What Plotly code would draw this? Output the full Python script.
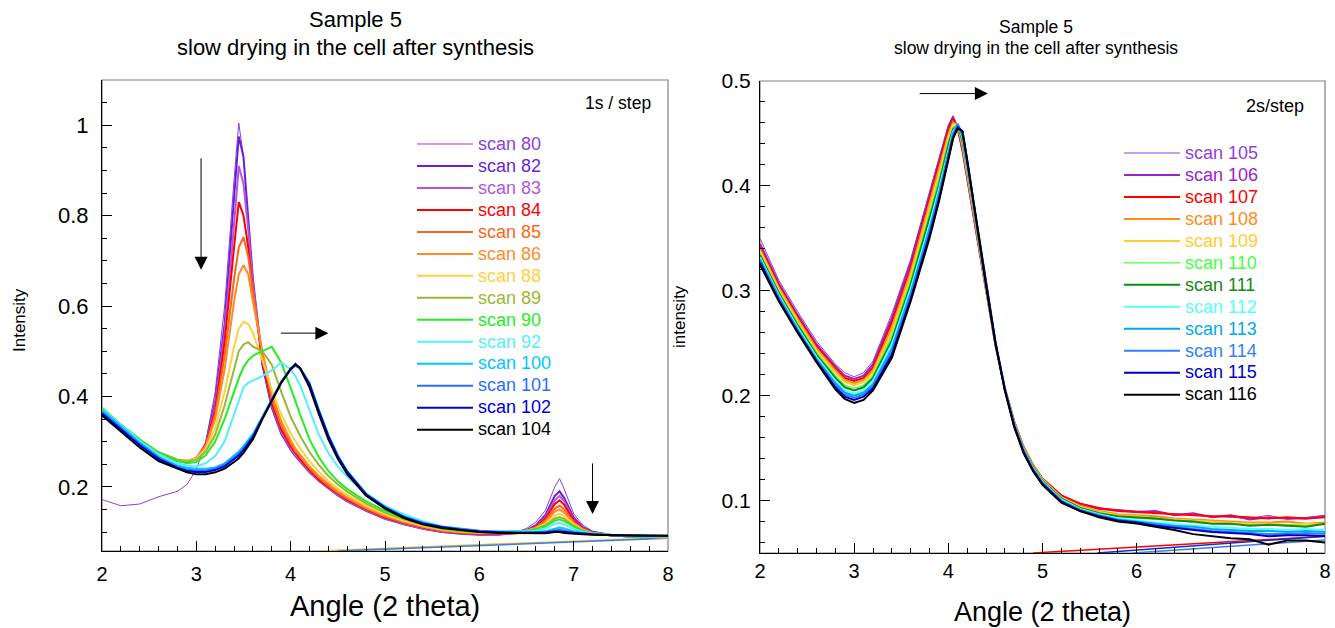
import plotly.graph_objects as go

# ---------------- LEFT PANEL DATA (1s / step) ----------------
L_X = [2.0, 2.2, 2.4, 2.6, 2.8, 2.9, 3.0, 3.1, 3.2, 3.3,
       3.4, 3.45, 3.5, 3.55, 3.6, 3.7, 3.8, 3.9, 4.0, 4.05,
       4.1, 4.2, 4.3, 4.4, 4.5, 4.6, 4.8, 5.0, 5.2, 5.4,
       5.6, 5.8, 6.0, 6.2, 6.4, 6.5, 6.6, 6.7, 6.8, 6.85,
       6.9, 7.0, 7.1, 7.2, 7.4, 7.6, 7.8, 8.0]

L_NAMES = ["scan 80", "scan 82", "scan 83", "scan 84", "scan 85", "scan 86", "scan 88",
           "scan 89", "scan 90", "scan 92", "scan 100", "scan 101", "scan 102", "scan 104"]

scan80 = [0.172, 0.158, 0.162, 0.178, 0.190, 0.205, 0.238, 0.300, 0.410, 0.600,
          0.880, 1.005, 0.930, 0.780, 0.640, 0.470, 0.380, 0.320, 0.285, 0.270,
          0.258, 0.235, 0.215, 0.198, 0.183, 0.170, 0.148, 0.130, 0.118, 0.108,
          0.100, 0.097, 0.094, 0.095, 0.100, 0.108, 0.122, 0.148, 0.200, 0.218,
          0.195, 0.140, 0.115, 0.102, 0.094, 0.090, 0.089, 0.088]
scan82 = [0.362, 0.328, 0.297, 0.272, 0.257, 0.255, 0.262, 0.295, 0.390, 0.560,
          0.840, 0.975, 0.930, 0.800, 0.660, 0.470, 0.375, 0.318, 0.282, 0.268,
          0.256, 0.232, 0.213, 0.196, 0.181, 0.168, 0.147, 0.129, 0.117, 0.107,
          0.100, 0.096, 0.094, 0.094, 0.098, 0.104, 0.115, 0.138, 0.180, 0.190,
          0.175, 0.132, 0.110, 0.100, 0.093, 0.090, 0.088, 0.088]
scan83 = [0.364, 0.329, 0.298, 0.272, 0.257, 0.256, 0.262, 0.293, 0.380, 0.540,
          0.780, 0.910, 0.870, 0.770, 0.650, 0.480, 0.380, 0.322, 0.285, 0.270,
          0.258, 0.234, 0.214, 0.197, 0.182, 0.169, 0.148, 0.130, 0.118, 0.108,
          0.101, 0.097, 0.095, 0.095, 0.097, 0.103, 0.113, 0.133, 0.170, 0.180,
          0.168, 0.128, 0.108, 0.099, 0.093, 0.090, 0.088, 0.088]
scan84 = [0.365, 0.330, 0.299, 0.273, 0.258, 0.256, 0.263, 0.292, 0.370, 0.520,
          0.730, 0.830, 0.800, 0.730, 0.630, 0.480, 0.385, 0.328, 0.290, 0.274,
          0.261, 0.237, 0.216, 0.199, 0.184, 0.171, 0.150, 0.132, 0.120, 0.110,
          0.102, 0.098, 0.096, 0.096, 0.098, 0.103, 0.112, 0.130, 0.162, 0.170,
          0.160, 0.126, 0.107, 0.099, 0.093, 0.090, 0.089, 0.088]
scan85 = [0.366, 0.331, 0.300, 0.274, 0.259, 0.257, 0.263, 0.290, 0.360, 0.490,
          0.660, 0.730, 0.752, 0.710, 0.630, 0.490, 0.395, 0.335, 0.296, 0.279,
          0.266, 0.241, 0.220, 0.202, 0.187, 0.174, 0.152, 0.134, 0.121, 0.111,
          0.103, 0.099, 0.097, 0.097, 0.099, 0.103, 0.110, 0.126, 0.152, 0.158,
          0.150, 0.122, 0.106, 0.098, 0.093, 0.090, 0.089, 0.088]
scan86 = [0.367, 0.332, 0.301, 0.275, 0.260, 0.258, 0.264, 0.290, 0.350, 0.460,
          0.610, 0.670, 0.690, 0.670, 0.610, 0.500, 0.405, 0.345, 0.303, 0.285,
          0.271, 0.245, 0.224, 0.206, 0.190, 0.177, 0.154, 0.136, 0.123, 0.112,
          0.104, 0.100, 0.098, 0.098, 0.100, 0.103, 0.109, 0.122, 0.145, 0.150,
          0.143, 0.120, 0.105, 0.098, 0.093, 0.090, 0.089, 0.088]
scan88 = [0.368, 0.333, 0.302, 0.276, 0.260, 0.257, 0.262, 0.284, 0.330, 0.410,
          0.510, 0.550, 0.565, 0.560, 0.540, 0.480, 0.415, 0.360, 0.318, 0.300,
          0.285, 0.257, 0.233, 0.213, 0.196, 0.182, 0.158, 0.139, 0.125, 0.114,
          0.106, 0.101, 0.099, 0.099, 0.100, 0.103, 0.108, 0.118, 0.136, 0.140,
          0.135, 0.117, 0.104, 0.097, 0.093, 0.090, 0.089, 0.088]
scan89 = [0.370, 0.335, 0.303, 0.277, 0.260, 0.256, 0.260, 0.278, 0.315, 0.380,
          0.460, 0.500, 0.515, 0.520, 0.510, 0.500, 0.470, 0.410, 0.355, 0.333,
          0.313, 0.277, 0.248, 0.224, 0.205, 0.189, 0.163, 0.143, 0.128, 0.116,
          0.107, 0.102, 0.100, 0.100, 0.101, 0.103, 0.107, 0.115, 0.130, 0.133,
          0.129, 0.114, 0.103, 0.097, 0.093, 0.090, 0.089, 0.088]
scan90 = [0.375, 0.338, 0.305, 0.276, 0.257, 0.252, 0.255, 0.270, 0.300, 0.350,
          0.410, 0.440, 0.465, 0.480, 0.490, 0.500, 0.510, 0.475, 0.420, 0.390,
          0.360, 0.305, 0.265, 0.235, 0.212, 0.195, 0.168, 0.147, 0.131, 0.118,
          0.109, 0.103, 0.100, 0.100, 0.101, 0.102, 0.106, 0.112, 0.125, 0.128,
          0.124, 0.112, 0.102, 0.097, 0.093, 0.090, 0.089, 0.089]
scan92 = [0.372, 0.336, 0.302, 0.272, 0.252, 0.247, 0.245, 0.252, 0.268, 0.300,
          0.360, 0.390, 0.420, 0.430, 0.435, 0.445, 0.458, 0.475, 0.460, 0.445,
          0.425, 0.370, 0.315, 0.275, 0.245, 0.222, 0.185, 0.158, 0.139, 0.124,
          0.113, 0.106, 0.102, 0.101, 0.100, 0.101, 0.103, 0.108, 0.118, 0.120,
          0.117, 0.107, 0.100, 0.096, 0.093, 0.091, 0.090, 0.090]
scan100 = [0.370, 0.333, 0.298, 0.267, 0.247, 0.242, 0.240, 0.240, 0.243, 0.252,
           0.268, 0.278, 0.290, 0.303, 0.317, 0.355, 0.395, 0.433, 0.460, 0.468,
           0.462, 0.430, 0.370, 0.315, 0.270, 0.235, 0.185, 0.156, 0.135, 0.121,
           0.112, 0.107, 0.103, 0.101, 0.100, 0.100, 0.100, 0.102, 0.108, 0.110,
           0.108, 0.102, 0.098, 0.095, 0.093, 0.092, 0.091, 0.091]
scan101 = [0.365, 0.330, 0.295, 0.264, 0.244, 0.238, 0.236, 0.236, 0.240, 0.249,
           0.264, 0.273, 0.285, 0.299, 0.313, 0.352, 0.392, 0.431, 0.460, 0.468,
           0.462, 0.425, 0.365, 0.310, 0.266, 0.232, 0.183, 0.154, 0.133, 0.120,
           0.111, 0.106, 0.102, 0.100, 0.099, 0.099, 0.099, 0.100, 0.104, 0.105,
           0.103, 0.099, 0.097, 0.095, 0.093, 0.092, 0.092, 0.091]
scan102 = [0.362, 0.327, 0.292, 0.262, 0.242, 0.235, 0.233, 0.233, 0.237, 0.245,
           0.260, 0.269, 0.281, 0.295, 0.310, 0.351, 0.392, 0.431, 0.462, 0.470,
           0.463, 0.427, 0.367, 0.312, 0.267, 0.233, 0.183, 0.154, 0.133, 0.119,
           0.111, 0.105, 0.101, 0.099, 0.098, 0.098, 0.098, 0.099, 0.101, 0.101,
           0.100, 0.098, 0.096, 0.095, 0.093, 0.093, 0.092, 0.092]
scan104 = [0.358, 0.322, 0.287, 0.257, 0.240, 0.232, 0.228, 0.228, 0.232, 0.240,
           0.255, 0.263, 0.275, 0.290, 0.305, 0.350, 0.390, 0.430, 0.460, 0.472,
           0.462, 0.420, 0.360, 0.305, 0.262, 0.228, 0.180, 0.152, 0.131, 0.117,
           0.109, 0.104, 0.100, 0.098, 0.097, 0.097, 0.096, 0.097, 0.100, 0.100,
           0.098, 0.096, 0.095, 0.094, 0.093, 0.092, 0.092, 0.092]
L_VALUES = [scan80, scan82, scan83, scan84, scan85, scan86, scan88,
            scan89, scan90, scan92, scan100, scan101, scan102, scan104]

# background lines (left)
L_BASE_X = [[4.3, 8.0], [4.5, 8.0]]
L_BASE_Y = [[0.058, 0.088], [0.058, 0.086]]

# ---------------- RIGHT PANEL DATA (2s / step) ----------------
R_X = [2.0, 2.2, 2.4, 2.6, 2.8, 2.9, 3.0, 3.1, 3.2, 3.4,
       3.6, 3.8, 3.9, 4.0, 4.05, 4.1, 4.15, 4.2, 4.3, 4.4,
       4.5, 4.6, 4.7, 4.8, 4.9, 5.0, 5.2, 5.4, 5.6, 5.8,
       6.0, 6.2, 6.4, 6.6, 6.8, 7.0, 7.2, 7.4, 7.6, 7.8, 8.0]

R_NAMES = ["scan 105", "scan 106", "scan 107", "scan 108", "scan 109", "scan 110",
           "scan 111", "scan 112", "scan 113", "scan 114", "scan 115", "scan 116"]

scan105 = [0.350, 0.310, 0.280, 0.252, 0.230, 0.222, 0.218, 0.222, 0.233, 0.278,
           0.330, 0.395, 0.428, 0.458, 0.467, 0.452, 0.432, 0.405, 0.352, 0.298,
           0.248, 0.206, 0.175, 0.150, 0.133, 0.120, 0.105, 0.097, 0.093, 0.091,
           0.090, 0.089, 0.087, 0.087, 0.085, 0.084, 0.083, 0.086, 0.082, 0.084, 0.086]
scan106 = [0.345, 0.307, 0.277, 0.249, 0.228, 0.219, 0.216, 0.219, 0.230, 0.274,
           0.327, 0.392, 0.425, 0.456, 0.466, 0.455, 0.434, 0.407, 0.354, 0.299,
           0.248, 0.207, 0.175, 0.150, 0.133, 0.120, 0.104, 0.097, 0.092, 0.091,
           0.089, 0.090, 0.086, 0.088, 0.084, 0.086, 0.082, 0.084, 0.083, 0.083, 0.085]
scan107 = [0.342, 0.305, 0.275, 0.247, 0.226, 0.217, 0.214, 0.217, 0.227, 0.270,
           0.322, 0.388, 0.421, 0.453, 0.464, 0.456, 0.436, 0.409, 0.356, 0.300,
           0.249, 0.207, 0.175, 0.151, 0.134, 0.121, 0.105, 0.097, 0.093, 0.090,
           0.089, 0.088, 0.087, 0.086, 0.085, 0.085, 0.084, 0.083, 0.084, 0.083, 0.084]
scan108 = [0.340, 0.303, 0.273, 0.245, 0.224, 0.215, 0.212, 0.215, 0.224, 0.265,
           0.318, 0.383, 0.416, 0.449, 0.461, 0.457, 0.438, 0.411, 0.358, 0.301,
           0.249, 0.207, 0.174, 0.150, 0.133, 0.120, 0.103, 0.095, 0.090, 0.087,
           0.086, 0.085, 0.083, 0.082, 0.081, 0.080, 0.079, 0.079, 0.080, 0.078, 0.079]
scan109 = [0.338, 0.301, 0.271, 0.243, 0.222, 0.213, 0.210, 0.213, 0.222, 0.261,
           0.314, 0.378, 0.411, 0.446, 0.459, 0.458, 0.440, 0.413, 0.360, 0.302,
           0.250, 0.207, 0.174, 0.150, 0.133, 0.120, 0.103, 0.094, 0.089, 0.086,
           0.085, 0.083, 0.082, 0.081, 0.080, 0.079, 0.078, 0.078, 0.077, 0.078, 0.077]
scan110 = [0.336, 0.299, 0.269, 0.241, 0.219, 0.210, 0.207, 0.210, 0.219, 0.257,
           0.310, 0.373, 0.406, 0.442, 0.456, 0.458, 0.441, 0.415, 0.361, 0.303,
           0.250, 0.207, 0.173, 0.149, 0.132, 0.119, 0.102, 0.093, 0.088, 0.085,
           0.083, 0.082, 0.081, 0.079, 0.078, 0.077, 0.077, 0.076, 0.077, 0.076, 0.078]
scan111 = [0.334, 0.298, 0.267, 0.239, 0.217, 0.208, 0.205, 0.208, 0.217, 0.253,
           0.306, 0.368, 0.401, 0.439, 0.454, 0.458, 0.443, 0.417, 0.362, 0.304,
           0.250, 0.207, 0.173, 0.149, 0.132, 0.119, 0.102, 0.093, 0.088, 0.085,
           0.084, 0.083, 0.081, 0.080, 0.078, 0.078, 0.076, 0.077, 0.076, 0.075, 0.078]
scan112 = [0.332, 0.296, 0.265, 0.237, 0.214, 0.205, 0.202, 0.205, 0.214, 0.249,
           0.302, 0.363, 0.397, 0.435, 0.452, 0.459, 0.446, 0.419, 0.363, 0.305,
           0.251, 0.207, 0.172, 0.148, 0.131, 0.118, 0.101, 0.092, 0.087, 0.083,
           0.081, 0.079, 0.078, 0.076, 0.075, 0.074, 0.073, 0.073, 0.072, 0.073, 0.072]
scan113 = [0.330, 0.294, 0.263, 0.235, 0.212, 0.203, 0.200, 0.203, 0.211, 0.245,
           0.298, 0.359, 0.393, 0.432, 0.450, 0.459, 0.448, 0.421, 0.364, 0.305,
           0.251, 0.206, 0.172, 0.147, 0.130, 0.117, 0.100, 0.091, 0.086, 0.082,
           0.080, 0.078, 0.076, 0.075, 0.073, 0.072, 0.071, 0.071, 0.070, 0.071, 0.070]
scan114 = [0.329, 0.293, 0.262, 0.234, 0.210, 0.201, 0.198, 0.201, 0.209, 0.242,
           0.295, 0.356, 0.390, 0.430, 0.448, 0.458, 0.450, 0.423, 0.365, 0.306,
           0.251, 0.206, 0.171, 0.147, 0.129, 0.116, 0.099, 0.091, 0.085, 0.081,
           0.079, 0.077, 0.075, 0.073, 0.071, 0.070, 0.069, 0.068, 0.068, 0.069, 0.068]
scan115 = [0.327, 0.291, 0.261, 0.233, 0.208, 0.199, 0.196, 0.199, 0.207, 0.239,
           0.292, 0.353, 0.387, 0.427, 0.446, 0.456, 0.452, 0.424, 0.366, 0.306,
           0.251, 0.206, 0.171, 0.146, 0.129, 0.116, 0.099, 0.090, 0.085, 0.081,
           0.079, 0.076, 0.074, 0.072, 0.070, 0.069, 0.068, 0.066, 0.067, 0.067, 0.066]
scan116 = [0.325, 0.290, 0.260, 0.232, 0.206, 0.197, 0.193, 0.196, 0.205, 0.236,
           0.290, 0.350, 0.385, 0.425, 0.445, 0.455, 0.452, 0.425, 0.365, 0.305,
           0.250, 0.205, 0.170, 0.145, 0.128, 0.115, 0.098, 0.090, 0.084, 0.080,
           0.078, 0.075, 0.072, 0.068, 0.066, 0.064, 0.063, 0.058, 0.062, 0.062, 0.060]
R_VALUES = [scan105, scan106, scan107, scan108, scan109, scan110,
            scan111, scan112, scan113, scan114, scan115, scan116]

# background lines (right)
R_BASE_X = [[4.9, 8.0], [5.58, 8.0], [5.96, 8.0]]
R_BASE_Y = [[0.05, 0.066], [0.05, 0.066], [0.05, 0.0625]]

# ---------------- STYLES ----------------
L_COLORS = ["#8a3fe0", "#6a1fd6", "#b455e0", "#ff0000", "#ff6419", "#ff8a26", "#ffd040",
            "#99b833", "#22ee22", "#55eeff", "#00c8ff", "#2a6fff", "#0000dd", "#000000"]
L_WIDTHS = [1, 2, 2, 2, 2, 2, 2, 2, 2, 2, 2, 2, 2, 2]
L_BASE_COLORS = ["#e8b830", "#3a7fe8"]
R_COLORS = ["#9040e0", "#9a22d0", "#ff0000", "#ff8c1a", "#ffcc33", "#44ff44",
            "#138a13", "#55ffff", "#00aaee", "#2f7fff", "#0000cc", "#000000"]
R_WIDTHS = [1, 2, 2, 2, 2, 1.2, 2, 2, 2, 2, 2, 2]
R_BASE_COLORS = ["#ff0000", "#1030d0", "#3a7fe8"]

FONT = "Liberation Sans, Arial, sans-serif"
W, H = 1335, 628

def px_x(p):
    return p / W

def px_y(p):
    return 1 - p / H

fig = go.Figure()

for bx, by, c in zip(L_BASE_X, L_BASE_Y, L_BASE_COLORS):
    fig.add_trace(go.Scatter(x=bx, y=by, mode="lines", line=dict(color=c, width=1.5),
                             showlegend=False, hoverinfo="skip", xaxis="x", yaxis="y"))
for name, ys, c, w in zip(L_NAMES, L_VALUES, L_COLORS, L_WIDTHS):
    fig.add_trace(go.Scatter(x=L_X, y=ys, mode="lines", line=dict(color=c, width=w),
                             name=f"<span style='color:{c};font-size:18px'>{name}</span>",
                             xaxis="x", yaxis="y", legend="legend"))

for bx, by, c in zip(R_BASE_X, R_BASE_Y, R_BASE_COLORS):
    fig.add_trace(go.Scatter(x=bx, y=by, mode="lines", line=dict(color=c, width=1.5),
                             showlegend=False, hoverinfo="skip", xaxis="x2", yaxis="y2"))
for name, ys, c, w in zip(R_NAMES, R_VALUES, R_COLORS, R_WIDTHS):
    fig.add_trace(go.Scatter(x=R_X, y=ys, mode="lines", line=dict(color=c, width=w),
                             name=f"<span style='color:{c};font-size:18px'>{name}</span>",
                             xaxis="x2", yaxis="y2", legend="legend2"))

tickfont = dict(family=FONT, size=20, color="black")
common_x = dict(range=[2, 8], dtick=1, tick0=0, ticks="inside", ticklen=10, tickwidth=1,
                tickcolor="black", showline=True, linecolor="black", linewidth=1,
                showgrid=False, zeroline=False, tickfont=tickfont, automargin=False,
                minor=dict(dtick=0.2, ticks="inside", ticklen=5, tickcolor="black", showgrid=False))

fig.update_layout(
    width=W, height=H,
    paper_bgcolor="white", plot_bgcolor="white",
    margin=dict(l=0, r=0, t=0, b=0, autoexpand=False),
    font=dict(family=FONT, color="black"),
    xaxis=dict(domain=[px_x(102), px_x(668)], anchor="y", ticklabelstandoff=5, **common_x),
    yaxis=dict(domain=[px_y(551), px_y(80)], anchor="x", range=[0.058, 1.1], dtick=0.2, tick0=0,
               ticks="inside", ticklen=10, tickcolor="black", showline=True, linecolor="black",
               showgrid=False, zeroline=False, automargin=False, ticklabelstandoff=8,
               tickfont=dict(family=FONT, size=22, color="black"),
               minor=dict(dtick=0.05, ticks="inside", ticklen=5, tickcolor="black", showgrid=False)),
    xaxis2=dict(domain=[px_x(760), px_x(1325)], anchor="y2", ticklabelstandoff=0, **common_x),
    yaxis2=dict(domain=[px_y(553), px_y(81)], anchor="x2", range=[0.05, 0.5], dtick=0.1, tick0=0,
                ticks="inside", ticklen=10, tickcolor="black", showline=True, linecolor="black",
                showgrid=False, zeroline=False, automargin=False, ticklabelstandoff=4,
                tickfont=dict(family=FONT, size=21, color="black"),
                minor=dict(dtick=0.02, ticks="inside", ticklen=5, tickcolor="black", showgrid=False)),
    legend=dict(x=px_x(412), y=px_y(128), xanchor="left", yanchor="top",
                bgcolor="rgba(0,0,0,0)", font=dict(family=FONT, size=14.6),
                itemwidth=56, tracegroupgap=0),
    legend2=dict(x=px_x(1119), y=px_y(137), xanchor="left", yanchor="top",
                 bgcolor="rgba(0,0,0,0)", font=dict(family=FONT, size=14.6),
                 itemwidth=56, tracegroupgap=0),
    showlegend=True,
)

# gray frame (top / right borders)
for xr, yr in [("x domain", "y domain"), ("x2 domain", "y2 domain")]:
    fig.add_shape(type="rect", xref=xr, yref=yr, x0=0, x1=1, y0=0, y1=1,
                  line=dict(color="#808080", width=1.2), layer="below")

ann = []
# titles
ann.append(dict(text="Sample 5", x=px_x(355), y=px_y(20), xref="paper", yref="paper",
                showarrow=False, font=dict(size=22), xanchor="center", yanchor="middle"))
ann.append(dict(text="slow drying in the cell after synthesis", x=px_x(355), y=px_y(47),
                xref="paper", yref="paper", showarrow=False, font=dict(size=22),
                xanchor="center", yanchor="middle"))
ann.append(dict(text="Sample 5", x=px_x(1036), y=px_y(27), xref="paper", yref="paper",
                showarrow=False, font=dict(size=17.5), xanchor="center", yanchor="middle"))
ann.append(dict(text="slow drying in the cell after synthesis", x=px_x(1036), y=px_y(48),
                xref="paper", yref="paper", showarrow=False, font=dict(size=17.5),
                xanchor="center", yanchor="middle"))
# axis titles
ann.append(dict(text="Angle (2 theta)", x=px_x(385), y=px_y(606), xref="paper", yref="paper",
                showarrow=False, font=dict(size=29), xanchor="center", yanchor="middle"))
ann.append(dict(text="Angle (2 theta)", x=px_x(1042), y=px_y(612), xref="paper", yref="paper",
                showarrow=False, font=dict(size=27), xanchor="center", yanchor="middle"))
ann.append(dict(text="Intensity", x=px_x(19), y=px_y(320), xref="paper", yref="paper",
                showarrow=False, font=dict(size=17), textangle=-90,
                xanchor="center", yanchor="middle"))
ann.append(dict(text="intensity", x=px_x(679), y=px_y(316), xref="paper", yref="paper",
                showarrow=False, font=dict(size=17), textangle=-90,
                xanchor="center", yanchor="middle"))
# step labels
ann.append(dict(text="1s / step", x=px_x(653), y=px_y(103), xref="paper", yref="paper",
                showarrow=False, font=dict(size=17.5), xanchor="right", yanchor="middle"))
ann.append(dict(text="2s/step", x=px_x(1306), y=px_y(106), xref="paper", yref="paper",
                showarrow=False, font=dict(size=18), xanchor="right", yanchor="middle"))

# arrows
arrow = dict(showarrow=True, arrowhead=2, arrowsize=2.6, arrowwidth=1, arrowcolor="black", text="")
ann.append(dict(x=3.05, y=0.68, ax=3.05, ay=0.93, xref="x", yref="y", axref="x", ayref="y", **arrow))
ann.append(dict(x=4.4, y=0.54, ax=3.88, ay=0.54, xref="x", yref="y", axref="x", ayref="y", **arrow))
ann.append(dict(x=7.2, y=0.14, ax=7.2, ay=0.255, xref="x", yref="y", axref="x", ayref="y", **arrow))
ann.append(dict(x=4.42, y=0.488, ax=3.68, ay=0.488, xref="x2", yref="y2", axref="x2", ayref="y2", **arrow))

fig.update_layout(annotations=ann)

fig.write_html("out.html", config={"displayModeBar": False},
               post_script="document.body.style.margin='0px';")
